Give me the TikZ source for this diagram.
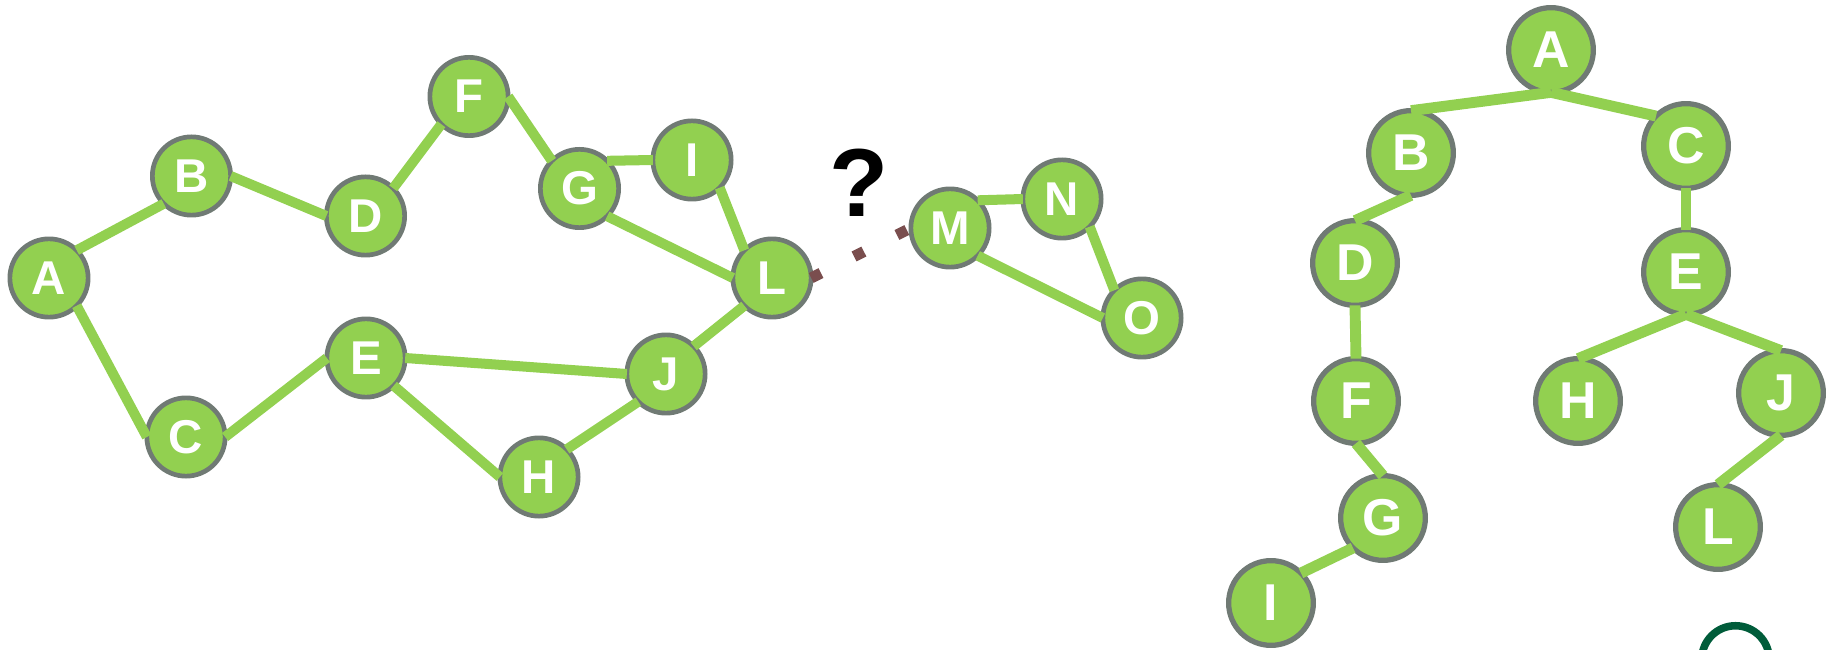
\documentclass[tikz,border=0pt]{standalone}
\usepackage{fontspec}
\setmainfont{Liberation Sans}
\definecolor{leaf}{RGB}{146,208,80}
\definecolor{rim}{RGB}{112,122,116}
\definecolor{rust}{RGB}{122,78,78}
\definecolor{pine}{RGB}{0,92,58}
\tikzset{
  vtx/.style={circle, fill=leaf, draw=rim, line width=2.67pt, minimum size=1.566cm,
    inner sep=0pt, outer sep=0pt, text=white, font=\fontsize{27}{27}\selectfont\bfseries},
  tvtx/.style={vtx, line width=3pt, minimum size=1.694cm, font=\fontsize{29.5}{29.5}\selectfont\bfseries},
  edge/.style={leaf, line width=5.7pt},
  tedge/.style={leaf, line width=6.2pt},
  link/.style={rust, line width=0.22cm, dash pattern=on 0.22cm off 0.74cm},
}
\begin{document}
\begin{tikzpicture}
  \useasboundingbox (0,0) rectangle (36.56,12.98);
  % the graph on the left
  \node[vtx] (gA) at (0.98,7.42) {A};
  \node[vtx] (gB) at (3.83,9.46) {B};
  \node[vtx] (gC) at (3.72,4.24) {C};
  \node[vtx] (gD) at (7.31,8.66) {D};
  \node[vtx] (gE) at (7.32,5.82) {E};
  \node[vtx] (gF) at (9.38,11.05) {F};
  \node[vtx] (gG) at (11.59,9.21) {G};
  \node[vtx] (gH) at (10.78,3.44) {H};
  \node[vtx] (gI) at (13.84,9.78) {I};
  \node[vtx] (gJ) at (13.32,5.50) {J};
  \node[vtx] (gL) at (15.44,7.42) {L};
  \node[vtx] (gM) at (19.00,8.42) {M};
  \node[vtx] (gN) at (21.24,9.00) {N};
  \node[vtx] (gO) at (22.84,6.62) {O};
  \draw[edge] (gA.north east) -- (gB.south west);
  \draw[edge] (gA.south east) -- (gC.west);
  \draw[edge] (gB.east) -- (gD.west);
  \draw[edge] (gD.north east) -- (gF.south west);
  \draw[edge] (gF.east) -- (gG.north west);
  \draw[edge] (gG.north east) -- (gI.west);
  \draw[edge] (gG.south east) -- (gL.west);
  \draw[edge] (gI.south east) -- (gL.north west);
  \draw[edge] (gL.south west) -- (gJ.north east);
  \draw[edge] (gC.east) -- (gE.west);
  \draw[edge] (gE.east) -- (gJ.west);
  \draw[edge] (gE.south east) -- (gH.west);
  \draw[edge] (gH.north east) -- (gJ.south west);
  \draw[edge] (gM.north east) -- (gN.west);
  \draw[edge] (gN.south east) -- (gO.north west);
  \draw[edge] (gM.south east) -- (gO.west);
  % broken link between the two parts
  \draw[link] (gL.east) -- (gM.west);
  \node (ask) at (17.18,9.32) {\fontsize{55}{55}\selectfont\bfseries ?};
  % the tree on the right
  \node[tvtx] (tA) at (31.02,11.98) {A};
  \node[tvtx] (tB) at (28.22,9.92) {B};
  \node[tvtx] (tC) at (33.72,10.06) {C};
  \node[tvtx] (tD) at (27.10,7.72) {D};
  \node[tvtx] (tE) at (33.72,7.54) {E};
  \node[tvtx] (tF) at (27.12,4.96) {F};
  \node[tvtx] (tG) at (27.66,2.62) {G};
  \node[tvtx] (tH) at (31.56,4.96) {H};
  \node[tvtx] (tI) at (25.42,0.92) {I};
  \node[tvtx] (tJ) at (35.62,5.12) {J};
  \node[tvtx] (tL) at (34.36,2.44) {L};
  \draw[tedge] (tA.south) -- (tB.north);
  \draw[tedge] (tA.south) -- (tC.north west);
  \draw[tedge] (tB.south) -- (tD.north);
  \draw[tedge] (tC.south) -- (tE.north);
  \draw[tedge] (tD.south) -- (tF.north);
  \draw[tedge] (tF.south) -- (tG.north);
  \draw[tedge] (tG.south west) -- (tI.north east);
  \draw[tedge] (tE.south) -- (tH.north);
  \draw[tedge] (tE.south) -- (tJ.north);
  \draw[tedge] (tJ.south) -- (tL.north);
  % ring cut by the lower edge
  \draw[pine, line width=4.3pt] (34.71,-0.21) circle (0.675);
\end{tikzpicture}
\end{document}
